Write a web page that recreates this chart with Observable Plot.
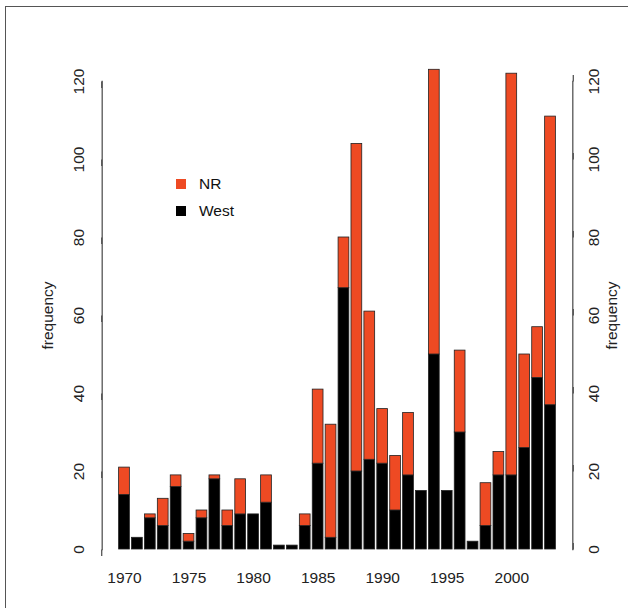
<!DOCTYPE html>
<html>
<head>
<meta charset="utf-8">
<script src="https://cdn.jsdelivr.net/npm/d3@7"></script>
<script src="https://cdn.jsdelivr.net/npm/@observablehq/plot@0.6"></script>
<style>
  html, body { margin: 0; padding: 0; background: #fff; overflow: hidden; }
  #wrap { position: relative; width: 628px; height: 608px; overflow: hidden; font-family: "Liberation Sans", Arial, Helvetica, sans-serif; }
  #border { position: absolute; left: 5px; top: 6px; width: 700px; height: 700px; border: 1.5px solid #555; box-sizing: border-box; pointer-events: none; }
  #legend { position: absolute; left: 176px; top: 170px; font-size: 15.5px; color: #111; }
  .item { display: flex; align-items: center; height: 27px; }
  .sw { width: 10px; height: 10px; margin-right: 13px; }
</style>
</head>
<body>
<div id="wrap"><div id="border"></div><div id="legend"></div></div>
<script>
const years = [1970, 1971, 1972, 1973, 1974, 1975, 1976, 1977, 1978, 1979,
               1980, 1981, 1982, 1983, 1984, 1985, 1986, 1987, 1988, 1989,
               1990, 1991, 1992, 1993, 1994, 1995, 1996, 1997, 1998, 1999,
               2000, 2001, 2002, 2003];
const west = [14, 3, 8, 6, 16, 2, 8, 18, 6, 9,
              9, 12, 1, 1, 6, 22, 3, 67, 20, 23,
              22, 10, 19, 15, 50, 15, 30, 2, 6, 19,
              19, 26, 44, 37];
const nr = [7, 0, 1, 7, 3, 2, 2, 1, 4, 9,
            0, 7, 0, 0, 3, 19, 29, 13, 84, 38,
            14, 14, 16, 0, 73, 0, 21, 0, 11, 6,
            103, 24, 13, 74];
const seriesNames = ["NR", "West"];
const seriesColors = ["#ee4a23", "#000000"];
const xTicks = [1970, 1975, 1980, 1985, 1990, 1995, 2000];
const yTicks = [0, 20, 40, 60, 80, 100, 120];
const yLabel = "frequency";

const rows = years.flatMap((yr, i) => [
  {year: yr, series: "West", value: west[i]},
  {year: yr, series: "NR", value: nr[i]}
]);

const font = "'Liberation Sans', Arial, Helvetica, sans-serif";

const chart = Plot.plot({
  width: 628,
  height: 608,
  marginLeft: 101.7,
  marginRight: 55.7,
  marginTop: 81,
  marginBottom: 59,
  style: {fontSize: "15.5px", fontFamily: font, background: "transparent", color: "#222"},
  x: {type: "band", domain: years, paddingInner: 0.1667, paddingOuter: 1.31, align: 0.5},
  y: {domain: [0, 120]},
  color: {domain: seriesNames, range: seriesColors},
  marks: [
    Plot.barY(rows, {x: "year", y: "value", fill: "series", order: ["West", "NR"], stroke: "#222", strokeWidth: 0.8}),
    Plot.frame({anchor: "left", stroke: "#555", strokeWidth: 1.3}),
    Plot.frame({anchor: "right", stroke: "#555", strokeWidth: 1.3}),
    Plot.axisX({ticks: xTicks, tickSize: 0, tickPadding: 22, tickFormat: d => String(d), fill: "#222", label: null}),
    Plot.axisY({anchor: "left", ticks: yTicks, tickSize: 6.5, tickPadding: 17, rotate: -90, textAnchor: "middle",
                stroke: "#555", strokeWidth: 1.3, fill: "#222",
                label: yLabel, labelAnchor: "center", labelOffset: 60, labelArrow: "none"}),
    Plot.axisY({anchor: "right", ticks: yTicks, tickSize: 6.5, tickPadding: 15, rotate: -90, textAnchor: "middle",
                stroke: "#555", strokeWidth: 1.3, fill: "#222",
                label: yLabel, labelAnchor: "center", labelOffset: 44, labelArrow: "none"})
  ]
});
chart.style.position = "absolute";
chart.style.left = "0px";
chart.style.top = "0px";
document.getElementById("wrap").insertBefore(chart, document.getElementById("border"));

const legend = document.getElementById("legend");
seriesNames.forEach((name, i) => {
  const item = document.createElement("div");
  item.className = "item";
  const sw = document.createElement("div");
  sw.className = "sw";
  sw.style.background = seriesColors[i];
  const label = document.createElement("span");
  label.textContent = name;
  item.appendChild(sw);
  item.appendChild(label);
  legend.appendChild(item);
});
</script>
</body>
</html>
